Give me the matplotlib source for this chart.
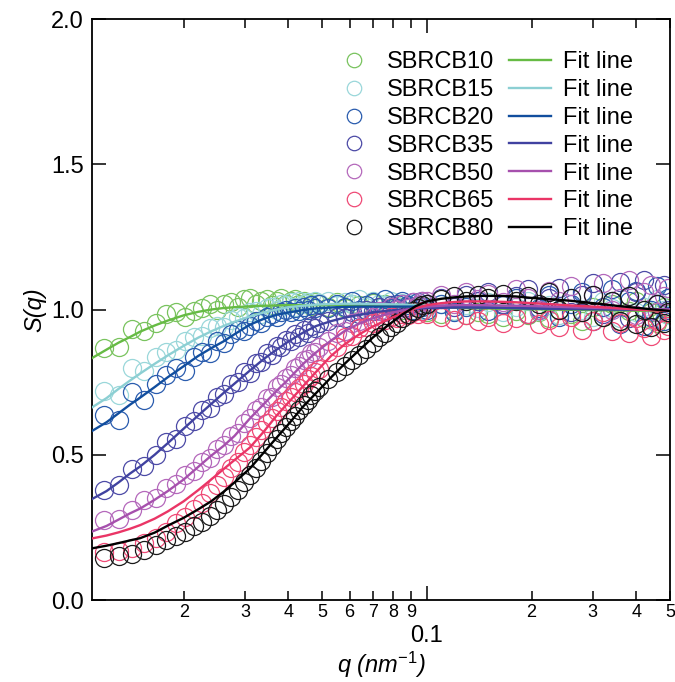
import numpy as np
import matplotlib
matplotlib.use('Agg')
import matplotlib.pyplot as plt
from matplotlib.ticker import FixedLocator, FuncFormatter, NullLocator

plt.rcParams['font.family'] = ['Liberation Sans', 'DejaVu Sans']
plt.rcParams['mathtext.fontset'] = 'custom'
plt.rcParams['mathtext.it'] = 'Liberation Sans:italic'
plt.rcParams['mathtext.rm'] = 'Liberation Sans'

# measured q grid (nm^-1), shared by all samples
q_data = [0.0118, 0.0130, 0.0142, 0.0154, 0.0166, 0.0178, 0.0190, 0.0202,
          0.0214, 0.0226, 0.0238, 0.0250, 0.0262, 0.0274, 0.0286, 0.0298,
          0.0310, 0.0322, 0.0334, 0.0346, 0.0358, 0.0370, 0.0382, 0.0394,
          0.0406, 0.0418, 0.0430, 0.0442, 0.0454, 0.0466, 0.0478, 0.0490,
          0.052, 0.055, 0.058, 0.061, 0.064, 0.067, 0.070, 0.073,
          0.076, 0.079, 0.082, 0.085, 0.088, 0.091, 0.094, 0.097,
          0.100, 0.110, 0.120, 0.130, 0.140, 0.150, 0.165, 0.180, 0.195,
          0.210, 0.225, 0.240, 0.260, 0.280, 0.300, 0.320, 0.340, 0.360,
          0.380, 0.400, 0.420, 0.440, 0.460, 0.480, 0.495]

s_10 = [0.868, 0.872, 0.932, 0.925, 0.952, 0.985, 0.99, 0.975,
        0.995, 1.005, 1.018, 1.00, 1.02, 1.025, 1.01, 1.035,
        1.04, 1.02, 1.03, 1.035, 1.015, 1.03, 1.04, 1.02,
        1.028, 1.035, 1.018, 1.03, 1.022, 1.012, 1.025, 1.02,
        1.01, 1.025, 1.005, 1.02, 1.015, 1.0, 1.022, 1.01,
        1.018, 1.005, 1.012, 1.0, 1.015, 0.995, 1.008, 1.0,
        0.99, 0.985, 0.995, 0.98, 0.99, 0.985, 0.975, 0.995, 0.98,
        0.99, 0.97, 1.0, 0.985, 0.96, 1.01, 0.975, 1.02, 0.96,
        0.995, 1.03, 0.97, 0.99, 0.955, 1.01, 0.985]
s_15 = [0.72, 0.705, 0.80, 0.79, 0.835, 0.855, 0.86, 0.89,
        0.905, 0.91, 0.935, 0.945, 0.94, 0.965, 0.975, 0.97,
        0.99, 0.995, 0.985, 1.005, 1.01, 1.0, 1.02, 1.015,
        1.025, 1.01, 1.03, 1.02, 1.025, 1.015, 1.03, 1.022,
        1.03, 1.015, 1.025, 1.02, 1.035, 1.01, 1.028, 1.02,
        1.015, 1.03, 1.01, 1.022, 1.005, 1.02, 1.012, 1.0,
        1.01, 1.02, 0.995, 1.015, 1.005, 1.025, 0.99, 1.01, 1.03,
        0.995, 1.015, 0.98, 1.04, 1.0, 0.975, 1.03, 1.005, 0.97,
        1.045, 0.99, 1.01, 0.965, 1.035, 1.0, 0.98]
s_20 = [0.638, 0.62, 0.715, 0.69, 0.745, 0.775, 0.80, 0.79,
        0.835, 0.855, 0.85, 0.89, 0.885, 0.915, 0.93, 0.925,
        0.945, 0.96, 0.955, 0.975, 0.985, 0.975, 0.99, 1.0,
        0.99, 1.005, 0.995, 1.01, 1.0, 1.015, 1.005, 1.02,
        1.005, 1.02, 1.01, 1.03, 1.0, 1.015, 1.025, 1.01,
        1.035, 1.005, 1.02, 1.03, 1.015, 1.0, 1.025, 1.01,
        1.0, 1.02, 0.99, 1.01, 1.03, 0.995, 1.015, 1.04, 0.985,
        1.005, 1.05, 0.975, 1.02, 1.06, 0.96, 1.01, 1.07, 0.95,
        1.03, 1.065, 0.945, 1.0, 1.08, 0.96, 1.04]
s_35 = [0.38, 0.395, 0.452, 0.46, 0.50, 0.545, 0.555, 0.60,
        0.615, 0.655, 0.66, 0.70, 0.71, 0.745, 0.75, 0.785,
        0.78, 0.815, 0.82, 0.85, 0.845, 0.875, 0.87, 0.895,
        0.89, 0.915, 0.905, 0.93, 0.92, 0.945, 0.935, 0.955,
        0.96, 0.975, 0.97, 0.99, 0.985, 1.0, 0.995, 1.01,
        1.0, 1.015, 1.005, 1.02, 1.01, 1.025, 1.015, 1.03,
        1.02, 1.04, 1.01, 1.05, 1.03, 1.06, 1.02, 1.045, 1.07,
        1.0, 1.04, 1.075, 0.99, 1.05, 1.09, 0.985, 1.03, 1.095,
        0.97, 1.06, 1.1, 0.975, 1.02, 1.085, 1.0]
s_50 = [0.275, 0.28, 0.31, 0.345, 0.35, 0.385, 0.40, 0.43,
        0.445, 0.475, 0.49, 0.52, 0.535, 0.565, 0.575, 0.61,
        0.625, 0.655, 0.665, 0.695, 0.70, 0.735, 0.745, 0.765,
        0.775, 0.80, 0.805, 0.825, 0.83, 0.85, 0.855, 0.87,
        0.89, 0.92, 0.925, 0.955, 0.96, 0.98, 0.975, 0.995,
        0.99, 1.01, 1.0, 1.02, 1.005, 1.025, 1.015, 1.03,
        1.03, 1.05, 1.02, 1.06, 1.035, 1.055, 1.025, 1.07, 1.04,
        1.0, 1.065, 1.03, 1.08, 0.99, 1.05, 1.09, 1.0, 1.04,
        1.1, 0.98, 1.06, 1.085, 0.99, 1.045, 1.075]
s_65 = [0.165, 0.17, 0.18, 0.195, 0.215, 0.235, 0.265, 0.285,
        0.315, 0.335, 0.37, 0.395, 0.425, 0.455, 0.475, 0.51,
        0.535, 0.56, 0.585, 0.61, 0.625, 0.65, 0.665, 0.685,
        0.70, 0.715, 0.73, 0.745, 0.76, 0.77, 0.785, 0.795,
        0.855, 0.87, 0.905, 0.91, 0.935, 0.94, 0.955, 0.96,
        0.965, 0.975, 0.97, 0.985, 0.98, 0.99, 0.985, 0.995,
        0.985, 0.975, 0.965, 0.98, 0.96, 0.975, 0.955, 0.97, 0.985,
        0.95, 0.965, 0.94, 0.975, 0.93, 0.96, 0.99, 0.925, 0.955,
        0.92, 0.97, 0.935, 0.91, 0.96, 0.93, 0.945]
s_80 = [0.145, 0.15, 0.16, 0.172, 0.19, 0.205, 0.22, 0.235,
        0.255, 0.27, 0.29, 0.31, 0.33, 0.355, 0.38, 0.405,
        0.43, 0.455, 0.48, 0.505, 0.53, 0.555, 0.575, 0.595,
        0.615, 0.635, 0.655, 0.67, 0.69, 0.705, 0.72, 0.735,
        0.76, 0.785, 0.805, 0.825, 0.845, 0.865, 0.885, 0.905,
        0.92, 0.94, 0.955, 0.97, 0.985, 0.995, 1.005, 1.015,
        1.02, 1.035, 1.045, 1.03, 1.05, 1.04, 1.055, 1.03, 1.045,
        1.02, 1.06, 1.0, 1.04, 0.99, 1.05, 0.975, 1.03, 0.96,
        1.045, 0.95, 1.0, 0.94, 1.02, 0.955, 0.99]

# fit curves
q_fit = [0.0108, 0.012, 0.013, 0.014, 0.015, 0.0165, 0.018, 0.02, 0.022, 0.024,
         0.026, 0.028, 0.031, 0.034, 0.037, 0.04, 0.044, 0.048, 0.053, 0.058,
         0.064, 0.07, 0.077, 0.085, 0.093, 0.1, 0.11, 0.12, 0.13, 0.145,
         0.16, 0.18, 0.2, 0.23, 0.26, 0.3, 0.35, 0.4, 0.45, 0.5]
fit_10 = [0.830, 0.862, 0.886, 0.905, 0.924, 0.945, 0.962, 0.98, 0.992, 1.0,
          1.005, 1.008, 1.011, 1.013, 1.014, 1.015, 1.015, 1.015, 1.015, 1.015,
          1.014, 1.013, 1.012, 1.011, 1.01, 1.009, 1.008, 1.006, 1.005, 1.004,
          1.003, 1.002, 1.001, 1.0, 0.999, 0.998, 0.997, 0.996, 0.996, 0.995]
fit_15 = [0.66, 0.695, 0.727, 0.755, 0.78, 0.813, 0.842, 0.875, 0.903, 0.925,
          0.943, 0.958, 0.976, 0.99, 1.0, 1.008, 1.013, 1.017, 1.019, 1.02,
          1.02, 1.019, 1.018, 1.017, 1.016, 1.015, 1.013, 1.012, 1.011, 1.01,
          1.008, 1.007, 1.006, 1.005, 1.004, 1.003, 1.002, 1.001, 1.0, 1.0]
fit_20 = [0.579, 0.612, 0.643, 0.672, 0.697, 0.733, 0.767, 0.805, 0.84, 0.867,
          0.89, 0.915, 0.948, 0.968, 0.982, 0.99, 0.998, 1.004, 1.007, 1.009,
          1.01, 1.01, 1.01, 1.01, 1.01, 1.01, 1.009, 1.008, 1.008, 1.007,
          1.006, 1.005, 1.004, 1.003, 1.002, 1.002, 1.001, 1.0, 1.0, 1.0]
fit_35 = [0.345, 0.375, 0.405, 0.435, 0.46, 0.50, 0.54, 0.59, 0.635, 0.675,
          0.712, 0.745, 0.79, 0.83, 0.862, 0.89, 0.92, 0.943, 0.96, 0.972,
          0.982, 0.99, 0.996, 1.0, 1.003, 1.005, 1.006, 1.007, 1.007, 1.007,
          1.006, 1.005, 1.004, 1.003, 1.002, 1.001, 1.0, 1.0, 1.0, 1.0]
fit_50 = [0.234, 0.255, 0.277, 0.298, 0.315, 0.345, 0.375, 0.415, 0.458, 0.497,
          0.53, 0.565, 0.625, 0.675, 0.72, 0.76, 0.812, 0.852, 0.893, 0.926,
          0.952, 0.97, 0.985, 0.997, 1.005, 1.01, 1.013, 1.015, 1.015, 1.015,
          1.014, 1.013, 1.012, 1.01, 1.008, 1.006, 1.004, 1.002, 1.001, 1.0]
fit_65 = [0.211, 0.222, 0.233, 0.245, 0.258, 0.28, 0.305, 0.34, 0.378, 0.415,
          0.45, 0.482, 0.525, 0.58, 0.635, 0.68, 0.735, 0.785, 0.84, 0.88,
          0.915, 0.942, 0.965, 0.987, 1.005, 1.015, 1.022, 1.026, 1.028, 1.028,
          1.027, 1.025, 1.022, 1.018, 1.014, 1.01, 1.005, 1.0, 0.997, 0.995]
fit_80 = [0.177, 0.187, 0.196, 0.205, 0.213, 0.232, 0.256, 0.283, 0.312, 0.34,
          0.372, 0.405, 0.453, 0.508, 0.559, 0.605, 0.665, 0.712, 0.766, 0.813,
          0.861, 0.904, 0.944, 0.983, 1.012, 1.028, 1.037, 1.042, 1.045, 1.047,
          1.047, 1.045, 1.04, 1.035, 1.03, 1.022, 1.013, 1.006, 1.0, 0.995]

names = ['SBRCB10', 'SBRCB15', 'SBRCB20', 'SBRCB35', 'SBRCB50', 'SBRCB65', 'SBRCB80']
data_series = [s_10, s_15, s_20, s_35, s_50, s_65, s_80]
fit_series = [fit_10, fit_15, fit_20, fit_35, fit_50, fit_65, fit_80]
dot_colors = ['#79c35e', '#9ad7da', '#2a5cae', '#4c4aa6', '#b468bb', '#ef4a76', '#1a1a1a']
line_colors = ['#66bb44', '#8ccfd3', '#114e9e', '#4042a0', '#a650ad', '#ea3566', '#000000']

fig = plt.figure(figsize=(6.75, 6.82), dpi=100)
ax = fig.add_axes([0.1363, 0.1202, 0.8563, 0.8519])

dot_handles = []
for name, s, c in zip(names, data_series, dot_colors):
    h, = ax.plot(q_data, s, 'o', ms=13, mfc='none', mec=c, mew=0.9, label=name)
    dot_handles.append(h)

fit_handles = []
for f, c in zip(fit_series, line_colors):
    h, = ax.plot(q_fit, f, '-', color=c, lw=1.7, label='Fit line', zorder=3)
    fit_handles.append(h)

ax.set_xscale('log')
ax.set_xlim(0.0109, 0.5)
ax.set_ylim(0, 2.0)

ax.xaxis.set_major_locator(FixedLocator([0.1]))
ax.xaxis.set_minor_locator(FixedLocator([0.02, 0.03, 0.04, 0.05, 0.06, 0.07, 0.08, 0.09,
                                         0.2, 0.3, 0.4, 0.5]))
ax.xaxis.set_major_formatter(FuncFormatter(lambda v, p: '0.1'))
ax.xaxis.set_minor_formatter(FuncFormatter(
    lambda v, p: '%d' % round(v / 10 ** np.floor(np.log10(v) + 1e-9))))
ax.set_yticks([0, 0.5, 1.0, 1.5, 2.0])
ax.yaxis.set_major_formatter(FuncFormatter(lambda v, p: '%.1f' % v))
ax.yaxis.set_minor_locator(NullLocator())

ax.tick_params(which='both', direction='in', top=True, right=True, width=1.1)
ax.tick_params(which='major', length=10, labelsize=17)
ax.tick_params(which='minor', length=6.5, labelsize=13)
ax.tick_params(axis='x', which='major', pad=18)
ax.tick_params(axis='x', which='minor', pad=3)
ax.tick_params(axis='y', which='major', pad=6)
for sp in ax.spines.values():
    sp.set_linewidth(1.3)

ax.set_xlabel('q (nm$^{-1}$)', fontsize=17, style='italic', labelpad=2)
ax.set_ylabel('S(q)', fontsize=17, style='italic', labelpad=3)

ax.legend(dot_handles + fit_handles, names + ['Fit line'] * 7, ncol=2,
          loc='upper left', bbox_to_anchor=(0.417, 0.945), frameon=False,
          fontsize=17, handlelength=1.8, handletextpad=0.5, columnspacing=0.6,
          labelspacing=0.25, borderpad=0, borderaxespad=0, markerscale=0.8)

plt.savefig('out.png', dpi=100)
